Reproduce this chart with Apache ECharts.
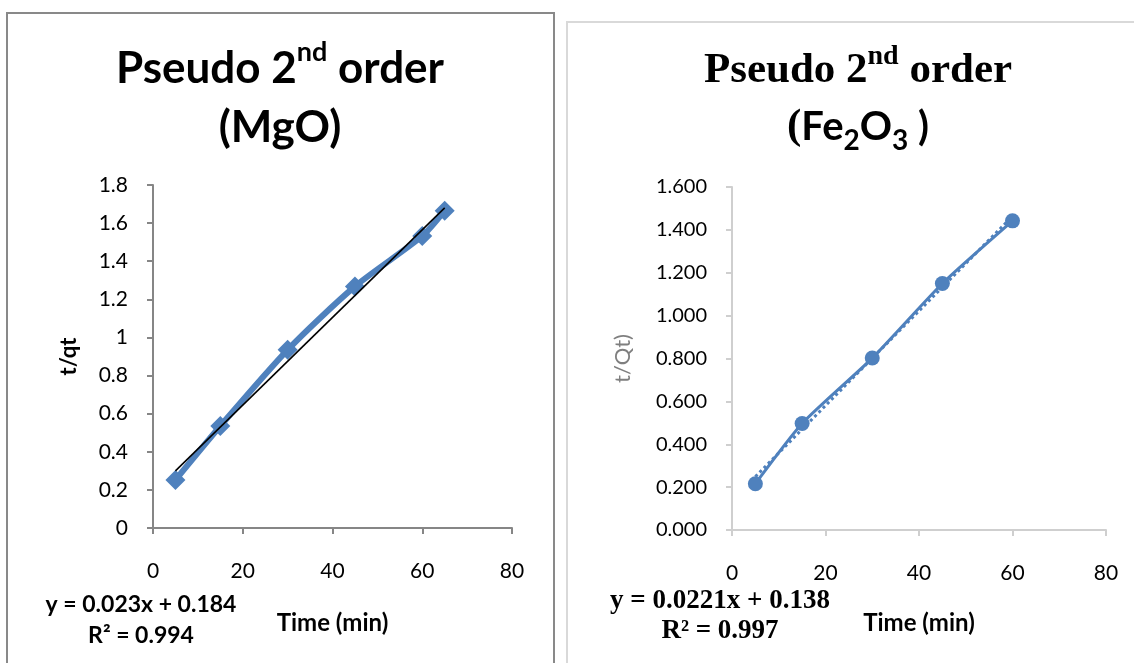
<!DOCTYPE html>
<html>
<head>
<meta charset="utf-8">
<script src="https://cdn.jsdelivr.net/npm/echarts@6/dist/echarts.min.js"></script>
<style>
    html, body { margin: 0; padding: 0; background: #fff; }
    #chart { width: 1134px; height: 663px; }
</style>
</head>
<body>
<div id="chart"></div>
<script>
// MgO panel
const mgoTime = [5, 15, 30, 45, 60, 65];
const mgoTq = [0.252, 0.535, 0.935, 1.268, 1.532, 1.665];
const mgoTrend = [[5, 0.30], [65, 1.68]];
const mgoTicks = [0, 0.2, 0.4, 0.6, 0.8, 1, 1.2, 1.4, 1.6, 1.8];

// Fe2O3 panel
const feTime = [5, 15, 30, 45, 60];
const feTq = [0.216, 0.497, 0.802, 1.150, 1.442];
const feTrend = [[5, 0.249], [60, 1.464]];
const feTicks = [0, 0.2, 0.4, 0.6, 0.8, 1.0, 1.2, 1.4, 1.6];

const timeTicks = [0, 20, 40, 60, 80];

const SANS = 'Lato, "DejaVu Sans", sans-serif';
const SERIF = '"Liberation Serif", "DejaVu Serif", serif';
const BLUE = "#4f81bd";

function pairs(xs, ys) {
    return xs.map((x, i) => [x, ys[i]]);
}

function xAxisFor(gridIndex, lineColor, gap) {
    return {
        type: "value",
        gridIndex: gridIndex,
        min: timeTicks[0],
        max: timeTicks[timeTicks.length - 1],
        interval: timeTicks[1] - timeTicks[0],
        name: "Time (min)",
        nameLocation: "middle",
        nameGap: gap,
        nameTextStyle: { fontFamily: SANS, fontWeight: "bold", fontSize: 24, color: "#000" },
        axisLine: { show: true, lineStyle: { color: lineColor, width: 2 } },
        axisTick: { show: true, inside: false, length: 6, lineStyle: { color: lineColor, width: 2 } },
        axisLabel: { margin: 33, fontFamily: SANS, fontSize: 21, color: "#000" },
        splitLine: { show: false }
    };
}

const chart = echarts.init(document.getElementById("chart"), null, { renderer: "canvas" });

chart.setOption({
    animation: false,
    backgroundColor: "#fff",
    grid: [
        { left: 153, top: 185, width: 359, height: 343 },
        { left: 732, top: 187, width: 374, height: 343 }
    ],
    xAxis: [
        xAxisFor(0, "#868686", 83),
        xAxisFor(1, "#cfcfcf", 81)
    ],
    yAxis: [
        {
            type: "value",
            gridIndex: 0,
            min: mgoTicks[0],
            max: mgoTicks[mgoTicks.length - 1],
            interval: 0.2,
            name: "t/qt",
            nameLocation: "middle",
            nameGap: 73,
            nameTextStyle: { fontFamily: SANS, fontWeight: "bold", fontSize: 22, color: "#000" },
            axisLine: { show: true, lineStyle: { color: "#868686", width: 2 } },
            axisTick: { show: true, length: 6, lineStyle: { color: "#868686", width: 2 } },
            axisLabel: { margin: 25, fontFamily: SANS, fontSize: 21, color: "#000" },
            splitLine: { show: false }
        },
        {
            type: "value",
            gridIndex: 1,
            min: feTicks[0],
            max: feTicks[feTicks.length - 1],
            interval: 0.2,
            name: "t/Qt)",
            nameLocation: "middle",
            nameGap: 98,
            nameTextStyle: { fontFamily: SANS, fontSize: 22, color: "#7f7f7f" },
            axisLine: { show: true, lineStyle: { color: "#cfcfcf", width: 2 } },
            axisTick: { show: true, length: 6, lineStyle: { color: "#cfcfcf", width: 2 } },
            axisLabel: {
                margin: 25, fontFamily: SANS, fontSize: 20, color: "#000",
                formatter: v => v.toFixed(3)
            },
            splitLine: { show: false }
        }
    ],
    series: [
        {
            type: "line",
            xAxisIndex: 0,
            yAxisIndex: 0,
            data: pairs(mgoTime, mgoTq),
            smooth: 0.25,
            symbol: "diamond",
            symbolSize: 20,
            lineStyle: { color: BLUE, width: 6 },
            itemStyle: { color: BLUE },
            z: 2
        },
        {
            type: "line",
            xAxisIndex: 0,
            yAxisIndex: 0,
            data: mgoTrend,
            symbol: "none",
            lineStyle: { color: "#000", width: 1.6 },
            z: 3
        },
        {
            type: "line",
            xAxisIndex: 1,
            yAxisIndex: 1,
            data: feTrend,
            symbol: "none",
            lineStyle: { color: BLUE, width: 3, type: "dotted" },
            z: 2
        },
        {
            type: "line",
            xAxisIndex: 1,
            yAxisIndex: 1,
            data: pairs(feTime, feTq),
            smooth: 0.2,
            symbol: "circle",
            symbolSize: 15,
            lineStyle: { color: BLUE, width: 3 },
            itemStyle: { color: BLUE },
            z: 3
        }
    ],
    graphic: [
        // panel frames
        {
            type: "rect", silent: true, z: -10,
            shape: { x: 7, y: 13, width: 547, height: 700 },
            style: { fill: "none", stroke: "#898989", lineWidth: 2 }
        },
        {
            type: "rect", silent: true, z: -10,
            shape: { x: 567, y: 22, width: 600, height: 700 },
            style: { fill: "none", stroke: "#d9d9d9", lineWidth: 2 }
        },
        // titles
        {
            type: "text", x: 280, y: 39,
            style: {
                text: "{a|Pseudo 2}{s|nd}{a| order}\n{a|(MgO)}",
                align: "center",
                verticalAlign: "top",
                rich: {
                    a: { fontFamily: SANS, fontWeight: "bold", fontSize: 44, lineHeight: 59, fill: "#000" },
                    s: { fontFamily: SANS, fontWeight: "bold", fontSize: 27, lineHeight: 38, verticalAlign: "top", fill: "#000" }
                }
            }
        },
        {
            type: "text", x: 858, y: 43,
            style: {
                text: "{t|Pseudo 2}{ts|nd}{t| order}\n{t|(}{c|Fe}{sub|2}{c|O}{sub|3}{c| )}",
                align: "center",
                verticalAlign: "top",
                rich: {
                    t: { fontFamily: SERIF, fontWeight: "bold", fontSize: 43, lineHeight: 56, fill: "#000" },
                    ts: { fontFamily: SERIF, fontWeight: "bold", fontSize: 28, lineHeight: 38, verticalAlign: "top", fill: "#000" },
                    c: { fontFamily: SANS, fontWeight: "bold", fontSize: 40, lineHeight: 56, fill: "#000" },
                    sub: { fontFamily: SANS, fontWeight: "bold", fontSize: 28, lineHeight: 14, verticalAlign: "bottom", fill: "#000" }
                }
            }
        },
        // trendline equations
        {
            type: "text", x: 141, y: 620,
            style: {
                text: "y = 0.023x + 0.184\nR\u00b2 = 0.994",
                align: "center", verticalAlign: "middle",
                fontFamily: SANS, fontWeight: "bold", fontSize: 23, lineHeight: 31, fill: "#000"
            }
        },
        {
            type: "text", x: 720, y: 616,
            style: {
                text: "y = 0.0221x + 0.138\nR\u00b2 = 0.997",
                align: "center", verticalAlign: "middle",
                fontFamily: SERIF, fontWeight: "bold", fontSize: 27, lineHeight: 30, fill: "#000"
            }
        }
    ]
});
</script>
</body>
</html>
